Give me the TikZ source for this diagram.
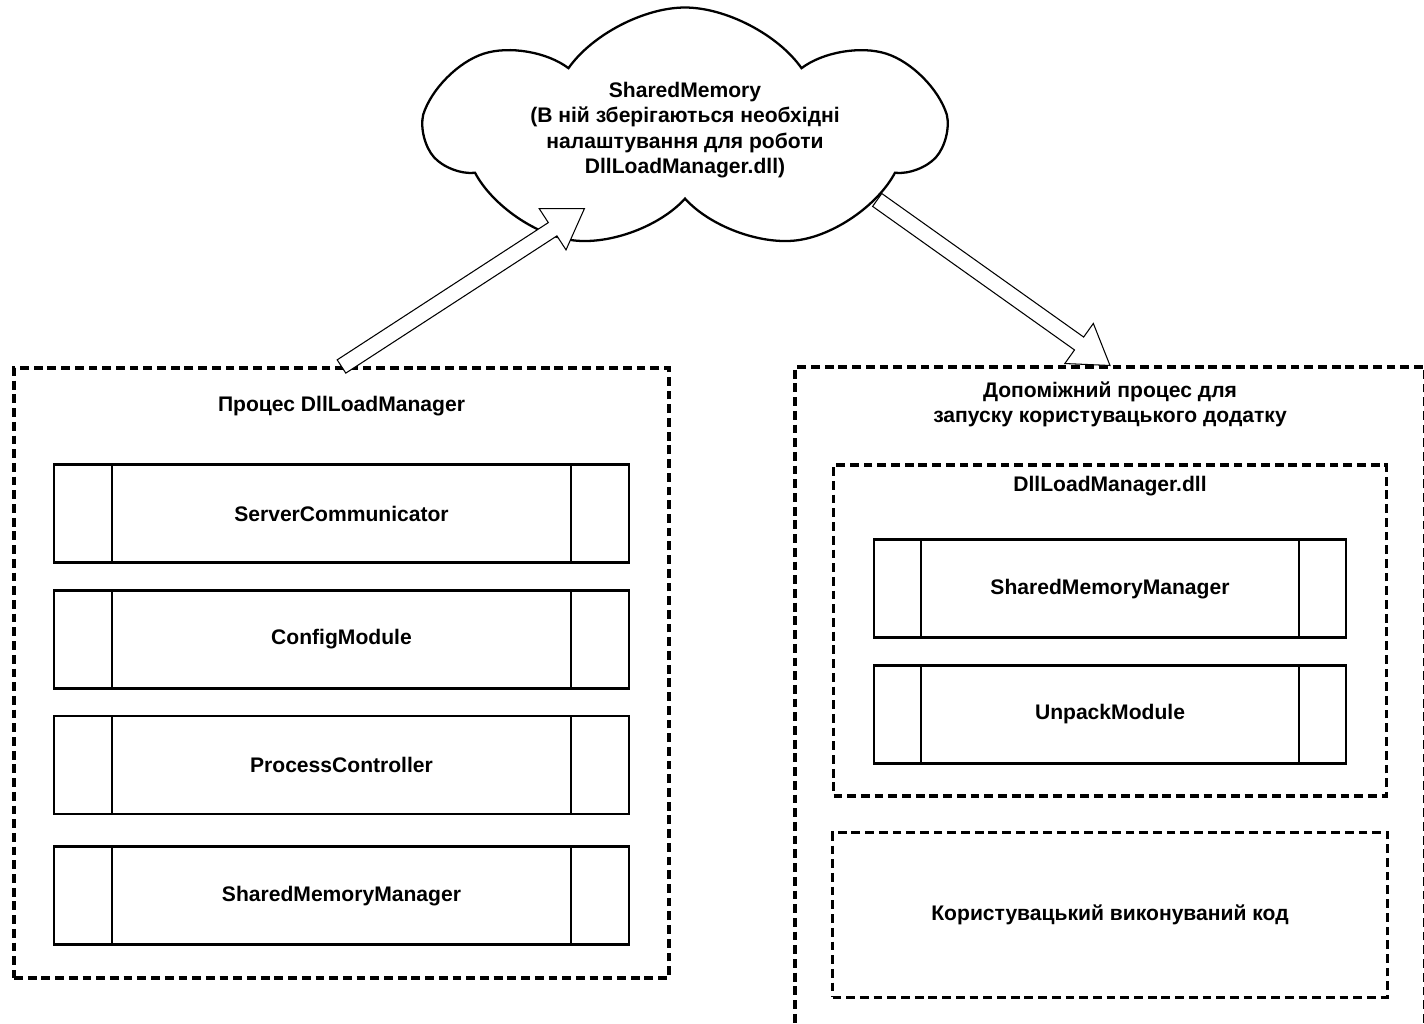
\documentclass[tikz,border=0pt]{standalone}
\usepackage{fontspec}
\setmainfont{Liberation Sans}
\usepackage{tikz}
\usetikzlibrary{positioning, calc, shapes.symbols}

\begin{document}
\begin{tikzpicture}[
			x=0.02cm,
			y=-0.02cm,
			font=\bfseries\fontsize{12}{14.5}\selectfont,
			title/.style={align=center, inner sep=0pt},
			group/.style={
				draw,
				line width=1.8pt,
				dash pattern=on 5pt off 2.8pt,
				inner sep=0pt,
				align=center
			},
			module/.style 2 args={
				draw,
				line width=1.5pt,
				minimum width=#1,
				minimum height=1.96cm,
				path picture={
					\draw[line width=1.5pt] ([xshift=#2]path picture bounding box.north west) -- ([xshift=#2]path picture bounding box.south west);
					\draw[line width=1.5pt] ([xshift=-#2]path picture bounding box.north east) -- ([xshift=-#2]path picture bounding box.south east);
				}
			},
			memcloud/.style={
				draw,
				cloud,
				cloud puffs=7,
				cloud puff arc=110,
				cloud ignores aspect,
				line width=1.3pt,
				minimum width=10.3cm,
				minimum height=4.9cm,
				align=center
			},
			flexarrow/.style={
				draw,
				fill=white,
				line width=0.6pt,
				to path={
					let \p1=(\tikztostart), \p2=(\tikztotarget), \p3=($(\p2)!21.6pt!(\p1)$) in
					($(\p1)!4.5pt!90:(\p2)$) -- ($(\p3)!4.5pt!90:(\p2)$) -- ($(\p3)!14pt!90:(\p2)$)
					-- (\p2)
					-- ($(\p3)!14pt!-90:(\p2)$) -- ($(\p3)!4.5pt!-90:(\p2)$) -- ($(\p1)!4.5pt!-90:(\p2)$) -- cycle
				}
			},
			node distance=0.5cm
			]
			
			\useasboundingbox (0,0) rectangle (1424,1024);
			\fill[white] (0,0) rectangle (1424,1024);
			\clip (0,0) rectangle (1424,1024);
			
			% -------------------------------
			% PROCESS DLLLOADMANAGER
			% -------------------------------
			\node[group, minimum width=13.1cm, minimum height=12.2cm] (leftproc) at (341.5,673) {};
			\node[title] (lefttitle) at ([yshift=-0.8cm]leftproc.north) {Процес DllLoadManager};
			\node[module={11.5cm}{1.16cm}, below=1.94cm of leftproc.north] (srvcom) {ServerCommunicator};
			\node[module={11.5cm}{1.16cm}, below=of srvcom] (cfgmod) {ConfigModule};
			\node[module={11.5cm}{1.16cm}, below=of cfgmod] (proctrl) {ProcessController};
			\node[module={11.5cm}{1.16cm}, below=0.6cm of proctrl] (shmleft) {SharedMemoryManager};
			
			% -------------------------------
			% HELPER PROCESS
			% -------------------------------
			\node[group, minimum width=12.6cm, minimum height=13.4cm] (helper) at (1110,702) {};
			\node[title] (helpertitle) at ([yshift=-0.78cm]helper.north) {Допоміжний процес для\\запуску користувацького додатку};
			
			\node[group, minimum width=11.06cm, minimum height=6.62cm, below=1.96cm of helper.north] (dllbox) {};
			\node[title] (dlltitle) at ([yshift=-0.46cm]dllbox.north) {DllLoadManager.dll};
			\node[module={9.44cm}{0.94cm}, below=1.5cm of dllbox.north] (shmright) {SharedMemoryManager};
			\node[module={9.44cm}{0.94cm}, below=of shmright] (unpack) {UnpackModule};
			
			\node[group, minimum width=11.1cm, minimum height=3.3cm, below=0.66cm of dllbox] (usercode) {Користувацький виконуваний код};
			
			% -------------------------------
			% SHARED MEMORY
			% -------------------------------
			\node[memcloud] (shm) at (685,130) {SharedMemory\\(В ній зберігаються необхідні\\налаштування для роботи\\DllLoadManager.dll)};
			
			% -------------------------------
			% ARROWS
			% -------------------------------
			\draw[flexarrow] (leftproc.north) to ($(shm.218)!0.26!(shm.center)$);
			\draw[flexarrow] (shm.340) to (helper.north);
			
		\end{tikzpicture}
\end{document}
